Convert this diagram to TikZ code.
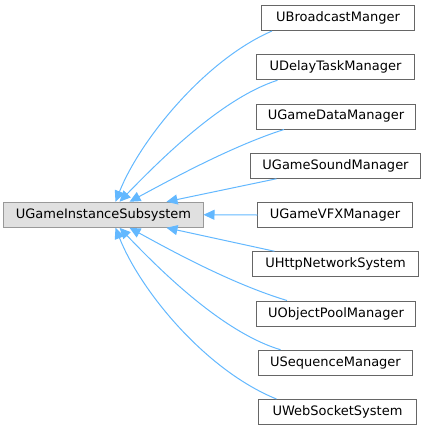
\documentclass[tikz,border=0pt]{standalone}
\usepackage{fontspec}
\setmainfont{DejaVu Sans}
\usetikzlibrary{arrows.meta}
\definecolor{edgeblue}{HTML}{63B8FF}
\definecolor{basefill}{HTML}{E0E0E0}
\definecolor{baseline}{HTML}{999999}
\definecolor{boxline}{HTML}{666666}
\tikzset{
  cls/.style={draw=boxline, fill=white, line width=1bp, minimum height=25bp, inner sep=0pt, font=\fontsize{13bp}{15bp}\selectfont, text=black},
  basecls/.style={cls, draw=baseline, fill=basefill},
  inh/.style={draw=edgeblue, line width=1bp, -{Triangle[length=11bp,width=10bp]}, fill=none},
}
\begin{document}
\begin{tikzpicture}[x=1bp,y=-1bp]
\useasboundingbox (0,0) rectangle (425,431);
\node[basecls, minimum width=199bp] (base) at (103.5,214.75) {UGameInstanceSubsystem};
\node[cls, minimum width=153bp] (b1) at (338,18) {UBroadcastManger};
\node[cls, minimum width=157bp] (b2) at (335.5,67.25) {UDelayTaskManager};
\node[cls, minimum width=159bp] (b3) at (336,116.5) {UGameDataManager};
\node[cls, minimum width=169bp] (b4) at (335.5,165.75) {UGameSoundManager};
\node[cls, minimum width=154bp] (b5) at (335,215) {UGameVFXManager};
\node[cls, minimum width=165bp] (b6) at (335.5,264.25) {UHttpNetworkSystem};
\node[cls, minimum width=159bp] (b7) at (336,313.5) {UObjectPoolManager};
\node[cls, minimum width=153bp] (b8) at (335.5,362.75) {USequenceManager};
\node[cls, minimum width=157bp] (b9) at (337.5,412) {UWebSocketSystem};

\draw[inh] ([xshift=11bp]b1.south west) .. controls (205,60) and (140,140) .. ([xshift=112bp]base.north west);
\draw[inh] ([xshift=21bp]b2.south west) .. controls (222,98) and (160,160) .. ([xshift=116bp]base.north west);
\draw[inh] ([xshift=28bp]b3.south west) .. controls (232,146) and (170,180) .. ([xshift=126bp]base.north west);
\draw[inh] ([xshift=26bp]b4.south west) -- ([xshift=163bp]base.north west);
\draw[inh] (b5.west) -- (base.east);
\draw[inh] ([xshift=22bp]b6.north west) -- ([xshift=163bp]base.south west);
\draw[inh] ([xshift=31bp]b7.north west) .. controls (232,284) and (170,250) .. ([xshift=126bp]base.south west);
\draw[inh] ([xshift=22bp]b8.north west) .. controls (222,332) and (160,270) .. ([xshift=116bp]base.south west);
\draw[inh] ([xshift=18bp]b9.north west) .. controls (205,370) and (140,290) .. ([xshift=112bp]base.south west);
\end{tikzpicture}
\end{document}
